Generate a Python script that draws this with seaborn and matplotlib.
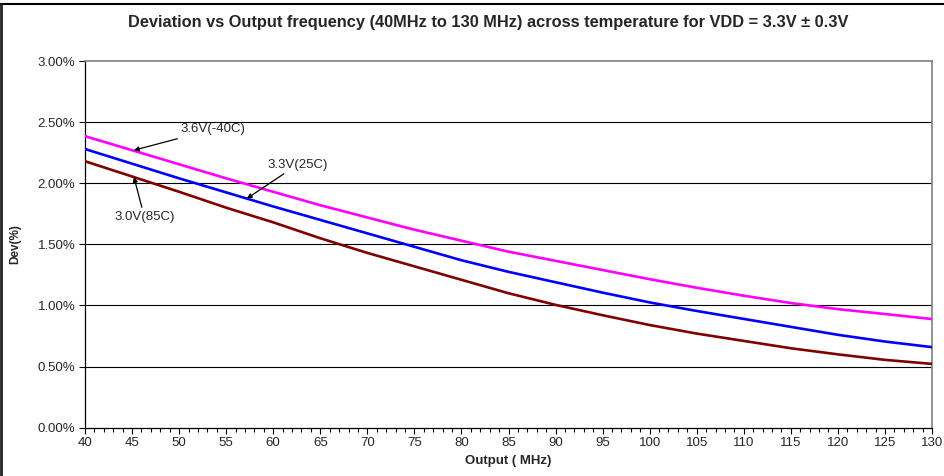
import numpy as np
import pandas as pd
import matplotlib
matplotlib.use("Agg")
import matplotlib.pyplot as plt
import seaborn as sns
from matplotlib.ticker import MultipleLocator, FuncFormatter
from matplotlib.lines import Line2D

freq_mhz = [40, 45, 50, 55, 60, 65, 70, 75, 80, 85, 90, 95, 100, 105, 110, 115, 120, 125, 130]
dev_36v_m40c = [2.385, 2.27, 2.155, 2.04, 1.93, 1.82, 1.72, 1.62, 1.53, 1.44, 1.365, 1.29, 1.215,
                1.145, 1.08, 1.02, 0.97, 0.93, 0.889]
dev_33v_25c = [2.28, 2.16, 2.04, 1.925, 1.81, 1.70, 1.59, 1.48, 1.37, 1.275, 1.19, 1.105, 1.025,
               0.955, 0.89, 0.825, 0.76, 0.705, 0.659]
dev_30v_85c = [2.18, 2.055, 1.93, 1.80, 1.68, 1.55, 1.43, 1.32, 1.21, 1.10, 1.005, 0.92, 0.84,
               0.77, 0.71, 0.65, 0.60, 0.555, 0.522]
series_names = ["3.6V(-40C)", "3.3V(25C)", "3.0V(85C)"]
series_colors = ["#FF00FF", "#0000FF", "#800000"]
x_ticks = list(range(40, 131, 5))
y_ticks = [0.0, 0.5, 1.0, 1.5, 2.0, 2.5, 3.0]

title = "Deviation vs Output frequency (40MHz to 130 MHz) across temperature for VDD = 3.3V \u00b1 0.3V"

sns.set_style("white")
plt.rcParams["font.family"] = ["Liberation Sans", "DejaVu Sans"]

df = pd.concat([
    pd.DataFrame({"freq": freq_mhz, "dev": vals, "series": name})
    for name, vals in zip(series_names, [dev_36v_m40c, dev_33v_25c, dev_30v_85c])
])

fig = plt.figure(figsize=(9.44, 4.76), dpi=100)
ax = fig.add_axes([85 / 944, 1 - 427.7 / 476, (932 - 85) / 944, (427.7 - 61) / 476])

# gridlines
for yv in y_ticks[1:-1]:
    ax.axhline(yv, color="black", lw=0.8, zorder=1)

sns.lineplot(data=df, x="freq", y="dev", hue="series", hue_order=series_names,
             palette=series_colors, linewidth=1.9, legend=False, ax=ax, zorder=3)

ax.set_xlim(40, 130)
ax.set_ylim(0, 3.0)
ax.set_xticks(x_ticks)
ax.xaxis.set_minor_locator(MultipleLocator(1))
ax.set_yticks(y_ticks)
ax.yaxis.set_major_formatter(FuncFormatter(lambda v, p: f"{v:.2f}%"))
ax.tick_params(axis="both", which="major", direction="out", length=4, width=0.8,
               color="black", labelsize=9.5, pad=3)
ax.tick_params(axis="x", which="minor", direction="out", length=3, width=0.8, color="black")
ax.tick_params(axis="x", which="both", bottom=True)
ax.tick_params(axis="y", which="both", left=True)

for side in ["top", "right"]:
    ax.spines[side].set_visible(True)
    ax.spines[side].set_color("#808080")
    ax.spines[side].set_linewidth(1.2)
for side in ["left", "bottom"]:
    ax.spines[side].set_color("black")
    ax.spines[side].set_linewidth(0.9)

ax.set_xlabel("Output ( MHz)", fontsize=9.5, fontweight="bold", labelpad=4)
ax.set_ylabel("Dev(%)", fontsize=8.5, fontweight="bold", labelpad=12)

fig.text(488 / 944, 1 - 22 / 476, title, ha="center", va="center",
         fontsize=11.8, fontweight="bold")

# annotations
arrow = dict(arrowstyle="-|>", color="black", lw=0.9, mutation_scale=7, shrinkA=0, shrinkB=0)
ax.annotate("3.6V(-40C)", xy=(45.2, 2.27), xytext=(50.1, 2.44), fontsize=9.5,
            ha="left", va="center", arrowprops=arrow)
ax.annotate("3.3V(25C)", xy=(57.2, 1.875), xytext=(59.4, 2.153), fontsize=9.5,
            ha="left", va="center", arrowprops=arrow)
ax.annotate("3.0V(85C)", xy=(45.2, 2.05), xytext=(46.3, 1.727), fontsize=9.5,
            ha="center", va="center", arrowprops=arrow)

# outer chart border (top and left visible)
fig.add_artist(Line2D([0, 1], [1 - 4 / 476, 1 - 4 / 476], transform=fig.transFigure,
                      color="black", lw=1.5))
fig.add_artist(Line2D([1 / 944, 1 / 944], [0, 1 - 4 / 476], transform=fig.transFigure,
                      color="#222222", lw=2.0))

fig.savefig("out.png", dpi=100)
